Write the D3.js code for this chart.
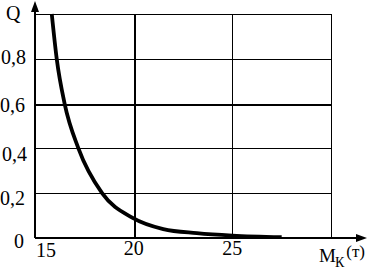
<!DOCTYPE html>
<html>
<head>
<meta charset="utf-8">
<script src="https://cdn.jsdelivr.net/npm/d3@7"></script>
<style>
  html, body { margin: 0; padding: 0; background: #fff; }
  svg { display: block; }
</style>
</head>
<body>
<div id="chart"></div>
<script>
// curve Q(Mk)
var mkValues = [ 15.85, 16.1, 16.5, 17.2, 18.4, 19.95, 21.5, 23.2, 25, 27.5 ];
var qValues  = [ 1.0, 0.8, 0.6, 0.4, 0.2, 0.09, 0.04, 0.022, 0.011, 0.004 ];

var xTicks = [ 15, 20, 25 ];
var xTickLabels = [ '15', '20', '25' ];
var xGrid = [ 20, 25, 30 ];
var yTicks = [ 0, 0.2, 0.4, 0.6, 0.8 ];
var yTickLabels = [ '0', '0,2', '0,4', '0,6', '0,8' ];
var yGrid = [ 0.2, 0.4, 0.6, 0.8, 1.0 ];

var width  = 368,
    height = 271,
    font   = "'Liberation Serif', 'DejaVu Serif', Times, serif";

var x = d3.scaleLinear().domain( [ 15, 30 ] ).range( [ 35, 331 ] ),
    y = d3.scaleLinear().domain( [ 0, 1 ] ).range( [ 238, 14 ] );

var svg = d3.select( '#chart' ).append( 'svg' )
  .attr( 'width', width )
  .attr( 'height', height )
  .attr( 'font-family', font );

// grid
var grid = svg.append( 'g' ).attr( 'class', 'grid' )
  .attr( 'shape-rendering', 'crispEdges' )
  .attr( 'stroke', '#000' );

grid.selectAll( '.hline' )
  .data( yGrid )
  .enter().append( 'line' )
  .attr( 'class', 'hline' )
  .attr( 'x1', x( 15 ) )
  .attr( 'x2', x( 30 ) )
  .attr( 'y1', function( d ) { return Math.round( y( d ) ) + 0.5; } )
  .attr( 'y2', function( d ) { return Math.round( y( d ) ) + 0.5; } )
  .attr( 'stroke-width', function( d ) { return d === 0.6 ? 2 : 1; } );

grid.selectAll( '.vline' )
  .data( xGrid )
  .enter().append( 'line' )
  .attr( 'class', 'vline' )
  .attr( 'x1', function( d ) { return Math.round( x( d ) ) + 0.5; } )
  .attr( 'x2', function( d ) { return Math.round( x( d ) ) + 0.5; } )
  .attr( 'y1', y( 1 ) )
  .attr( 'y2', y( 0 ) )
  .attr( 'stroke-width', function( d ) { return d === 20 ? 2 : 1; } );

// axes with arrows
var axes = svg.append( 'g' ).attr( 'class', 'axes' );

axes.append( 'line' )
  .attr( 'x1', x( 15 ) ).attr( 'x2', 358 )
  .attr( 'y1', y( 0 ) ).attr( 'y2', y( 0 ) )
  .attr( 'stroke', '#000' ).attr( 'stroke-width', 2 );

axes.append( 'path' )
  .attr( 'd', 'M356,' + ( y( 0 ) - 4 ) + ' L367,' + y( 0 ) + ' L356,' + ( y( 0 ) + 4 ) + 'Z' )
  .attr( 'fill', '#000' );

axes.append( 'line' )
  .attr( 'x1', x( 15 ) ).attr( 'x2', x( 15 ) )
  .attr( 'y1', y( 0 ) ).attr( 'y2', 10 )
  .attr( 'stroke', '#000' ).attr( 'stroke-width', 2 );

axes.append( 'path' )
  .attr( 'd', 'M' + ( x( 15 ) - 4 ) + ',12 L' + x( 15 ) + ',1 L' + ( x( 15 ) + 4 ) + ',12Z' )
  .attr( 'fill', '#000' );

// curve
var points = mkValues.map( function( m, i ) { return [ m, qValues[ i ] ]; } );

svg.append( 'path' )
  .datum( points )
  .attr( 'd', d3.line()
    .x( function( d ) { return x( d[ 0 ] ); } )
    .y( function( d ) { return y( d[ 1 ] ); } )
    .curve( d3.curveMonotoneX ) )
  .attr( 'fill', 'none' )
  .attr( 'stroke', '#000' )
  .attr( 'stroke-width', 3.8 );

// tick labels
svg.append( 'g' ).selectAll( 'text' )
  .data( xTicks )
  .enter().append( 'text' )
  .attr( 'x', function( d ) { return d === 15 ? x( d ) + 11 : x( d ); } )
  .attr( 'y', function( d ) { return d === 15 ? 257 : 255; } )
  .attr( 'text-anchor', 'middle' )
  .attr( 'font-size', 20 )
  .text( function( d, i ) { return xTickLabels[ i ]; } );

var yOffsets = { 0: 10, 0.2: 12, 0.4: 13, 0.6: 8, 0.8: 5 };
var yRight   = { 0: 24, 0.2: 25, 0.4: 27, 0.6: 25, 0.8: 26 };

svg.append( 'g' ).selectAll( 'text' )
  .data( yTicks )
  .enter().append( 'text' )
  .attr( 'x', function( d ) { return yRight[ d ]; } )
  .attr( 'y', function( d ) { return y( d ) + yOffsets[ d ]; } )
  .attr( 'text-anchor', 'end' )
  .attr( 'font-size', 20 )
  .text( function( d, i ) { return yTickLabels[ i ]; } );

// axis titles
svg.append( 'text' )
  .attr( 'x', 6 ).attr( 'y', 20 )
  .attr( 'font-size', 20 )
  .text( 'Q' );

var xTitle = svg.append( 'text' )
  .attr( 'x', 319 ).attr( 'y', 262 )
  .attr( 'font-size', 19 );
xTitle.append( 'tspan' ).text( 'M' );
xTitle.append( 'tspan' ).attr( 'font-size', 14 ).attr( 'dy', 5 ).attr( 'dx', -1 ).text( 'К' );
xTitle.append( 'tspan' ).attr( 'font-size', 17 ).attr( 'dy', -10 ).attr( 'dx', 2 ).text( '(т)' );
</script>
</body>
</html>
